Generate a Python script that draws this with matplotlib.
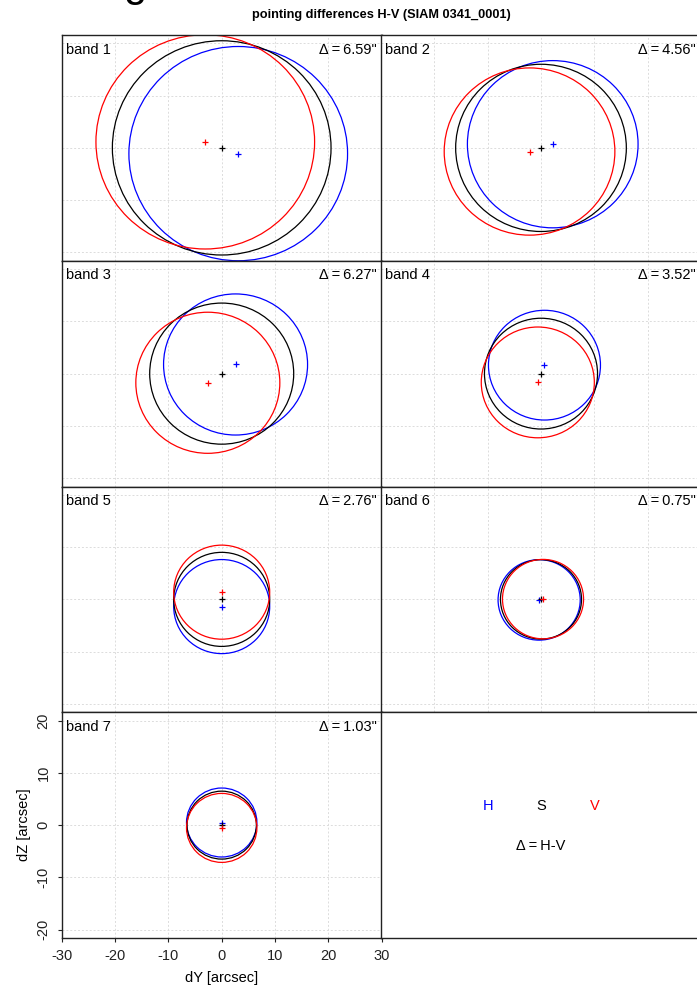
import matplotlib
matplotlib.use("Agg")
import matplotlib.pyplot as plt
import numpy as np
from matplotlib.patches import Ellipse

plt.rcParams["font.family"] = ["Liberation Sans", "DejaVu Sans"]
plt.rcParams["font.size"] = 10.5
plt.rcParams["axes.unicode_minus"] = False

# beam centres (arcsec) relative to the sum beam S, and fitted beam radii
bands = [1, 2, 3, 4, 5, 6, 7]
h_dy = [3.10, 2.20, 2.60, 0.65, 0.00, -0.35, 0.00]
h_dz = [-1.10, 0.70, 1.75, 1.62, -1.38, -0.10, 0.50]
v_dy = [-3.08, -2.15, -2.60, -0.60, 0.00, 0.38, 0.00]
v_dz = [1.15, -0.70, -1.75, -1.68, 1.38, 0.05, -0.53]
s_dy = [0.0, 0.0, 0.0, 0.0, 0.0, 0.0, 0.0]
s_dz = [0.0, 0.0, 0.0, 0.0, 0.0, 0.0, 0.0]
r_h = [20.5, 16.0, 13.5, 10.5, 9.0, 7.7, 6.6]
r_s = [20.5, 16.0, 13.5, 10.6, 9.0, 7.6, 6.5]
r_v = [20.5, 16.0, 13.5, 10.6, 9.0, 7.6, 6.6]
delta = [6.59, 4.56, 6.27, 3.52, 2.76, 0.75, 1.03]

title = "pointing differences H-V (SIAM 0341_0001)"
x_ticks = [-30, -20, -10, 0, 10, 20, 30]
y_ticks = [-20, -10, 0, 10, 20]
x_lim = (-30, 30)
y_lim = (-21.6, 21.6)

W, H = 697, 986
fig = plt.figure(figsize=(W / 100, H / 100), dpi=100)

col_left = [61.7, 381.0]
col_width = 320.0
row_top = 35.0
row_height = 225.75


def panel_axes(row, col):
    left = col_left[col] / W
    bottom = 1 - (row_top + row_height * (row + 1)) / H
    return fig.add_axes([left, bottom, col_width / W, row_height / H])


def style_box(ax):
    for sp in ax.spines.values():
        sp.set_color("#222222")
        sp.set_linewidth(1.0)


for i, band in enumerate(bands):
    row, col = divmod(i, 2)
    ax = panel_axes(row, col)
    ax.set_xlim(*x_lim)
    ax.set_ylim(*y_lim)
    ax.set_xticks(x_ticks)
    ax.set_yticks(y_ticks)
    ax.grid(True, color="#dcdcdc", linestyle=(0, (2, 2)), linewidth=0.7)
    ax.set_axisbelow(True)
    style_box(ax)

    beams = [
        (h_dy[i], h_dz[i], r_h[i], "blue"),
        (s_dy[i], s_dz[i], r_s[i], "black"),
        (v_dy[i], v_dz[i], r_v[i], "red"),
    ]
    for cy, cz, r, color in beams:
        ax.add_patch(Ellipse((cy, cz), 2 * r, 2 * r, fill=False,
                             edgecolor=color, linewidth=0.9))
        ax.plot(cy, cz, marker="+", color=color, markersize=5, mew=0.9)

    ax.text(0.013, 0.935, f"band {band}", transform=ax.transAxes,
            ha="left", va="center")
    ax.text(0.984, 0.935, f'\u0394\u2009=\u2009{delta[i]:.2f}"',
            transform=ax.transAxes, ha="right", va="center")

    if band == 7:
        ax.tick_params(direction="out", length=3, width=0.8, pad=5,
                       colors="#222222", labelsize=10.5)
        for lab in ax.get_yticklabels():
            lab.set_rotation(90)
            lab.set_va("center")
        ax.set_xlabel("dY [arcsec]", labelpad=6)
        ax.set_ylabel("dZ [arcsec]", labelpad=4)
    else:
        ax.tick_params(left=False, bottom=False,
                       labelleft=False, labelbottom=False)

# key panel
ax = panel_axes(3, 1)
ax.set_xlim(*x_lim)
ax.set_ylim(*y_lim)
ax.set_xticks([])
ax.set_yticks([])
style_box(ax)
ax.text(-10, 3.7, "H", color="blue", ha="center", va="center")
ax.text(0, 3.7, "S", color="black", ha="center", va="center")
ax.text(10, 3.7, "V", color="red", ha="center", va="center")
ax.text(0, -4.0, "\u0394\u2009=\u2009H-V", color="black",
        ha="center", va="center")

fig.text(381.5 / W, 1 - 15 / H, title, ha="center", va="center",
         fontsize=9.2, fontweight="bold")
fig.text(135 / W, 1 + 15 / H, "g", ha="center", va="center", fontsize=30)

fig.savefig("out.png", dpi=100)
